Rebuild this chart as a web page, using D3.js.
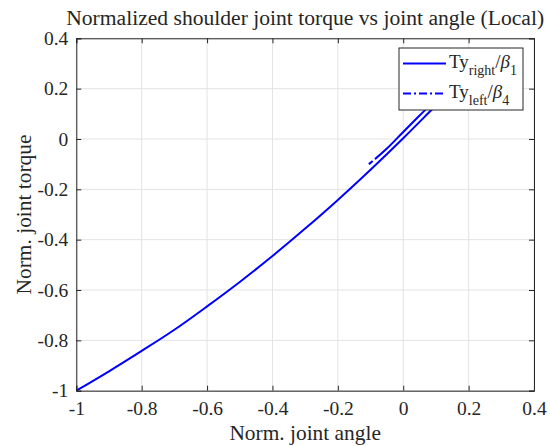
<!DOCTYPE html>
<html>
<head>
<meta charset="utf-8">
<script src="https://cdn.jsdelivr.net/npm/d3@7"></script>
<style>
  body { margin: 0; background: #fff; }
  svg text { font-family: "Liberation Serif", "Times New Roman", serif; fill: #262626; }
</style>
</head>
<body>
<div id="chart"></div>
<script>
// data
let rightAngle  = [-1, -0.9, -0.8, -0.7, -0.6, -0.5, -0.4, -0.3, -0.2, -0.1, 0, 0.1, 0.16];
let rightTorque = [-1, -0.923, -0.842, -0.758, -0.665, -0.568, -0.465, -0.356, -0.242, -0.122, 0.003, 0.133, 0.21];
let leftAngle   = [-0.105, -0.05, 0, 0.05, 0.1, 0.15];
let leftTorque  = [-0.100, -0.038, 0.028, 0.093, 0.158, 0.225];
let xTicks = [-1, -0.8, -0.6, -0.4, -0.2, 0, 0.2, 0.4];
let yTicks = [-1, -0.8, -0.6, -0.4, -0.2, 0, 0.2, 0.4];

let width = 550, height = 446;
let margin = {top: 38.3, right: 16, bottom: 55.3, left: 76.3};
let w = width - margin.left - margin.right;
let h = height - margin.top - margin.bottom;

let svg = d3.select("#chart").append("svg")
  .attr("width", width)
  .attr("height", height);

let g = svg.append("g")
  .attr("transform", `translate(${margin.left}, ${margin.top})`);

let x = d3.scaleLinear().domain([-1, 0.4]).range([0, w]);
let y = d3.scaleLinear().domain([-1, 0.4]).range([h, 0]);

let fmt = d => d === 0 ? "0" : String(d);

// grid
g.append("g").selectAll("line")
  .data(xTicks).enter().append("line")
  .attr("x1", d => x(d)).attr("x2", d => x(d))
  .attr("y1", 0).attr("y2", h)
  .attr("stroke", "#e3e3e3").attr("stroke-width", 1);
g.append("g").selectAll("line")
  .data(yTicks).enter().append("line")
  .attr("y1", d => y(d)).attr("y2", d => y(d))
  .attr("x1", 0).attr("x2", w)
  .attr("stroke", "#e3e3e3").attr("stroke-width", 1);

// lines
let line = d3.line()
  .x(d => x(d[0]))
  .y(d => y(d[1]))
  .curve(d3.curveMonotoneX);

g.append("path")
  .datum(rightAngle.map((a, i) => [a, rightTorque[i]]))
  .attr("fill", "none")
  .attr("stroke", "#0000ff")
  .attr("stroke-width", 2)
  .attr("d", line);

g.append("path")
  .datum(leftAngle.map((a, i) => [a, leftTorque[i]]))
  .attr("fill", "none")
  .attr("stroke", "#0000ff")
  .attr("stroke-width", 2)
  .attr("stroke-dasharray", "5,3,2000")
  .attr("d", line);

// axes (ticks inward, box all round)
let tickLen = 5;
let xAxisB = d3.axisBottom(x).tickValues(xTicks).tickSize(-tickLen).tickPadding(10.5).tickFormat(fmt);
let xAxisT = d3.axisTop(x).tickValues(xTicks).tickSize(-tickLen).tickFormat("");
let yAxisL = d3.axisLeft(y).tickValues(yTicks).tickSize(-tickLen).tickPadding(8).tickFormat(fmt);
let yAxisR = d3.axisRight(y).tickValues(yTicks).tickSize(-tickLen).tickFormat("");

function styleAxis(sel) {
  sel.select(".domain").attr("stroke", "#262626");
  sel.selectAll(".tick line").attr("stroke", "#262626");
  sel.selectAll("text")
    .style("font-family", "'Liberation Serif', 'Times New Roman', serif")
    .style("font-size", "19.5px")
    .attr("fill", "#262626");
}

g.append("g").attr("transform", `translate(0, ${h})`).call(xAxisB).call(styleAxis);
g.append("g").call(xAxisT).call(styleAxis);
g.append("g").call(yAxisL).call(styleAxis);
g.append("g").attr("transform", `translate(${w}, 0)`).call(yAxisR).call(styleAxis);

// title and labels
svg.append("text")
  .attr("x", margin.left + w / 2)
  .attr("y", 25)
  .attr("text-anchor", "middle")
  .style("font-size", "21.6px")
  .attr("fill", "#000")
  .text("Normalized shoulder joint torque vs joint angle (Local)");

svg.append("text")
  .attr("x", margin.left + w / 2)
  .attr("y", 440)
  .attr("text-anchor", "middle")
  .style("font-size", "21.4px")
  .text("Norm. joint angle");

svg.append("text")
  .attr("transform", `translate(31, ${margin.top + h / 2}) rotate(-90)`)
  .attr("text-anchor", "middle")
  .style("font-size", "21.4px")
  .text("Norm. joint torque");

// legend
let legend = svg.append("g").attr("transform", "translate(399, 48)");
legend.append("rect")
  .attr("width", 124).attr("height", 62)
  .attr("fill", "#fff")
  .attr("stroke", "#262626").attr("stroke-width", 1);

let legendItems = [
  {sub: "right", beta: "1", dash: null},
  {sub: "left", beta: "4", dash: "8,3,2,3"}
];

legendItems.forEach((d, i) => {
  let yy = 15.5 + i * 30;
  legend.append("line")
    .attr("x1", 4).attr("x2", 47)
    .attr("y1", yy).attr("y2", yy)
    .attr("stroke", "#0000ff").attr("stroke-width", 2)
    .attr("stroke-dasharray", d.dash);
  let t = legend.append("text")
    .attr("x", 50).attr("y", yy + 4)
    .style("font-size", "19px")
    .attr("fill", "#000");
  t.append("tspan").text("Ty");
  t.append("tspan").attr("dy", 7).style("font-size", "14px").text(d.sub);
  t.append("tspan").attr("dy", -7).text("/");
  t.append("tspan").style("font-style", "italic").text("β");
  t.append("tspan").attr("dy", 7).style("font-size", "14px").text(d.beta);
});
</script>
</body>
</html>
